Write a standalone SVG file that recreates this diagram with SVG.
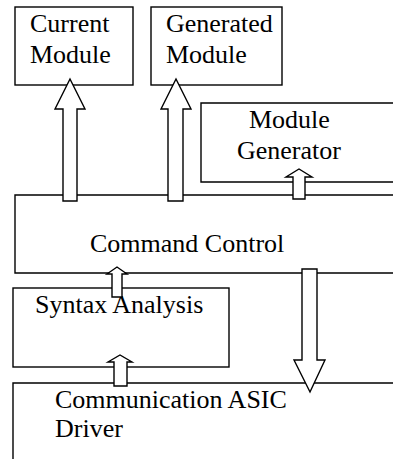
<svg xmlns="http://www.w3.org/2000/svg" width="393" height="459" viewBox="0 0 393 459">
  <style>
    .box { fill: none; stroke: #000; stroke-width: 1.4; }
    .arrow { fill: #fff; stroke: #000; stroke-width: 1.4; stroke-linejoin: miter; }
    .label { font-family: "Liberation Serif", "Times New Roman", serif; font-size: 26px; fill: #000; }
  </style>
  <rect width="393" height="459" fill="#fff"/>

  <g id="current-module">
    <rect class="box" x="15" y="7" width="118" height="78"/>
    <text class="label" x="30" y="32">Current</text>
    <text class="label" x="30" y="63">Module</text>
  </g>

  <g id="generated-module">
    <rect class="box" x="151" y="7" width="131" height="78"/>
    <text class="label" x="166" y="32">Generated</text>
    <text class="label" x="166" y="63">Module</text>
  </g>

  <g id="module-generator">
    <path class="box" d="M400,103 H201 V182 H400"/>
    <text class="label" x="249" y="128">Module</text>
    <text class="label" x="237" y="159">Generator</text>
  </g>

  <g id="command-control">
    <path class="box" d="M400,195 H15 V273 H400"/>
    <text class="label" x="90" y="252">Command Control</text>
  </g>

  <g id="syntax-analysis">
    <rect class="box" x="13" y="288" width="216" height="79"/>
    <text class="label" x="35" y="313">Syntax Analysis</text>
  </g>

  <g id="communication-asic-driver">
    <path class="box" d="M400,383 H13 V470"/>
    <text class="label" x="55" y="408">Communication ASIC</text>
    <text class="label" x="55" y="437">Driver</text>
  </g>

  <g id="connectors">
    <!-- Command Control to Current Module -->
    <path class="arrow" d="M63,201 V109 H55 L70,79 L85,109 H77 V201 Z"/>
    <!-- Command Control to Generated Module -->
    <path class="arrow" d="M168,201 V109 H161 L176,79 L191,109 H183 V201 Z"/>
    <!-- Command Control to Module Generator -->
    <path class="arrow" d="M293,199 V177 H286 L299,169 L312,177 H305 V199 Z"/>
    <!-- Syntax Analysis to Command Control -->
    <path class="arrow" d="M112,297 V274 H107 L117,267 L127,274 H122 V297 Z"/>
    <!-- Communication ASIC Driver to Syntax Analysis -->
    <path class="arrow" d="M114,386 V362 H108 L120,355 L132,362 H127 V386 Z"/>
    <!-- Command Control to Communication ASIC Driver -->
    <path class="arrow" d="M302,269 V360 H294 L310,392 L325,360 H317 V269 Z"/>
  </g>
</svg>
